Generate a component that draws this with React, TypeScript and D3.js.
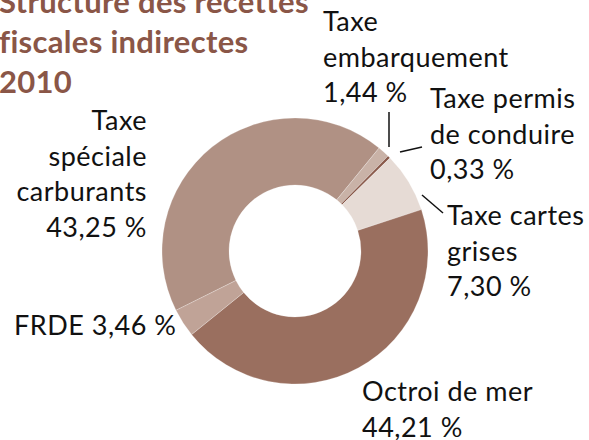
import React from "react";
import * as d3 from "d3";

const categories = [
  "Taxe spéciale carburants",
  "Taxe embarquement",
  "Taxe permis de conduire",
  "Taxe cartes grises",
  "Octroi de mer",
  "FRDE",
];
const values = [43.25, 1.44, 0.33, 7.3, 44.21, 3.46];
const colors = ["#b09184", "#c9b2a7", "#8a5a4b", "#e6dbd5", "#9a6f5f", "#c0a397"];
const titleLines = ["Structure des recettes", "fiscales indirectes", "2010"];

const W = 589;
const H = 440;
const cx = 295;
const cy = 251;
const rOuter = 133;
const rInner = 66;

const fmt = (v: number) => v.toFixed(2).replace(".", ",") + " %";

type Lab = { lines: string[]; x: number; y: number; anchor: string; line?: [number, number, number, number] };

export default function App() {
  const pie = d3
    .pie<number>()
    .sort(null)
    .value((d) => d)
    .startAngle((-116.5 * Math.PI) / 180)
    .endAngle(((360 - 116.5) * Math.PI) / 180);
  const arcs = pie(values);
  const arc = d3.arc<d3.PieArcDatum<number>>().innerRadius(rInner).outerRadius(rOuter);

  const labels: Lab[] = [
    { lines: ["Taxe", "spéciale", "carburants", fmt(values[0])], x: 147, y: 130, anchor: "end" },
    { lines: ["Taxe", "embarquement", fmt(values[1])], x: 323, y: 31, anchor: "start", line: [389, 112, 389, 147] },
    { lines: ["Taxe permis", "de conduire", fmt(values[2])], x: 430, y: 108, anchor: "start", line: [400, 152, 422, 147] },
    { lines: ["Taxe cartes", "grises", fmt(values[3])], x: 447, y: 225, anchor: "start", line: [422, 195, 443, 213] },
    { lines: ["Octroi de mer", fmt(values[4])], x: 362, y: 401, anchor: "start" },
    { lines: ["FRDE " + fmt(values[5])], x: 14, y: 335, anchor: "start" },
  ];

  return (
    <div style={{ position: "fixed", left: 0, top: 0 }}>
      <svg width={W} height={H} style={{ display: "block", background: "#fff", fontVariantLigatures: "none" }}>
        <g fontFamily="Lato, sans-serif" fontWeight={700} fontSize={31} fill="#8a5647" letterSpacing={0.3}>
          {titleLines.map((t, i) => (
            <text key={i} x={-1} y={13 + i * 40}>
              {t}
            </text>
          ))}
        </g>
        <g transform={`translate(${cx},${cy})`}>
          {arcs.map((a, i) => (
            <path key={categories[i]} d={arc(a) || ""} fill={colors[i]} stroke="#fff" strokeWidth={0.4} strokeOpacity={0.6} />
          ))}
        </g>
        <g fontFamily="Lato, sans-serif" fontWeight={400} fontSize={27} fill="#111" letterSpacing={0.5}>
          {labels.map((l, i) => (
            <g key={i}>
              {l.line && (
                <line x1={l.line[0]} y1={l.line[1]} x2={l.line[2]} y2={l.line[3]} stroke="#111" strokeWidth={1.5} />
              )}
              {l.lines.map((t, j) => (
                <text key={j} x={l.x} y={l.y + j * 35.5} textAnchor={l.anchor}>
                  {t}
                </text>
              ))}
            </g>
          ))}
        </g>
      </svg>
    </div>
  );
}
